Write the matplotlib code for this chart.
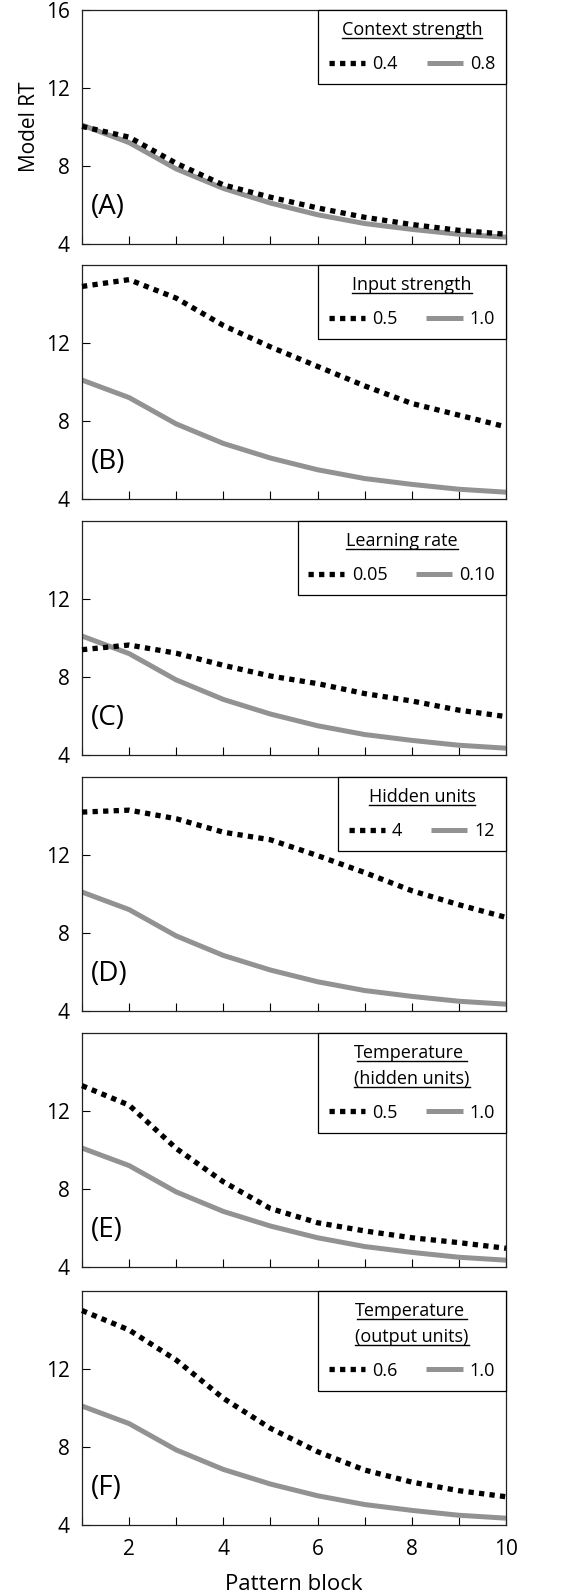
import matplotlib
matplotlib.use('Agg')
import matplotlib.pyplot as plt
from matplotlib.lines import Line2D

plt.rcParams['font.family'] = ['Open Sans', 'DejaVu Sans']

blocks = list(range(1, 11))
# baseline model (gray, same in every panel)
baseline = [10.1, 9.2, 7.85, 6.85, 6.1, 5.5, 5.05, 4.75, 4.5, 4.35]
# manipulated parameter (black dotted)
context_04 = [10.03, 9.48, 8.14, 7.03, 6.4, 5.85, 5.37, 5.0, 4.7, 4.5]
input_05 = [14.9, 15.25, 14.3, 12.9, 11.8, 10.8, 9.8, 8.9, 8.3, 7.7]
lrate_005 = [9.4, 9.64, 9.22, 8.6, 8.05, 7.66, 7.15, 6.77, 6.3, 5.97]
hidden_4 = [14.2, 14.3, 13.86, 13.17, 12.78, 11.97, 11.1, 10.17, 9.45, 8.8]
temp_hidden_05 = [13.3, 12.3, 10.08, 8.37, 7.0, 6.27, 5.85, 5.5, 5.25, 4.96]
temp_output_06 = [15.0, 14.0, 12.46, 10.5, 8.96, 7.76, 6.82, 6.2, 5.76, 5.45]

dotted_series = [context_04, input_05, lrate_005, hidden_4, temp_hidden_05, temp_output_06]
panel_letters = ['A', 'B', 'C', 'D', 'E', 'F']
legend_titles = ['Context strength', 'Input strength', 'Learning rate', 'Hidden units',
                 'Temperature\n(hidden units)', 'Temperature\n(output units)']
dotted_labels = ['0.4', '0.5', '0.05', '4', '0.5', '0.6']
solid_labels = ['0.8', '1.0', '0.10', '12', '1.0', '1.0']

W, H = 572, 1595
fig = plt.figure(figsize=(W / 100, H / 100), dpi=100)

top_px = [10, 265, 521, 777, 1033, 1291]
ax_h = 234
left_px, ax_w = 82, 424
leg_fs = 13

legends = []
axes = []
for i, series in enumerate(dotted_series):
    ax = fig.add_axes([left_px / W, 1 - (top_px[i] + ax_h) / H, ax_w / W, ax_h / H])
    axes.append(ax)
    l1, = ax.plot(blocks, series, color='black', lw=3.8, linestyle=(0, (1, 1)),
                  dash_capstyle='butt', zorder=3, clip_on=False)
    l2, = ax.plot(blocks, baseline, color='#929292', lw=3.6, zorder=2,
                  solid_capstyle='butt')
    ax.set_xlim(1, 10)
    ax.set_ylim(4, 16)
    ax.set_xticks(blocks)
    if i == 0:
        ax.set_yticks([4, 8, 12, 16])
    else:
        ax.set_yticks([4, 8, 12])
    if i == len(dotted_series) - 1:
        ax.set_xticklabels([str(b) if b % 2 == 0 else '' for b in blocks])
        ax.set_xlabel('Pattern block', fontsize=16, labelpad=10)
    else:
        ax.set_xticklabels([])
    ax.tick_params(direction='in', length=6, width=0.8, labelsize=15)
    ax.tick_params(axis='y', pad=9)
    ax.tick_params(axis='x', pad=10)
    for sp in ax.spines.values():
        sp.set_linewidth(0.9)
        sp.set_color('#222222')
    ax.text(0.022, 0.16, '(%s)' % panel_letters[i], transform=ax.transAxes,
            fontsize=20, va='center', ha='left')
    leg = ax.legend([l1, l2], [dotted_labels[i], solid_labels[i]], title=legend_titles[i],
                    loc='upper right', ncol=2, fancybox=False, edgecolor='black',
                    framealpha=1, borderaxespad=0, fontsize=leg_fs, title_fontsize=leg_fs,
                    handlelength=2.0, columnspacing=1.6, handletextpad=0.4,
                    labelspacing=0.9, borderpad=0.6)
    leg.get_frame().set_linewidth(0.9)
    leg.get_title().set_linespacing(1.55)
    legends.append(leg)

axes[0].set_ylabel('Model RT', fontsize=15, labelpad=4)

# underline the legend titles
fig.canvas.draw()
renderer = fig.canvas.get_renderer()
for leg in legends:
    title = leg.get_title()
    bb = title.get_window_extent(renderer)
    lines = title.get_text().split('\n')
    one = fig.text(0, 0, 'Tg', fontsize=leg_fs)
    two = fig.text(0, 0, 'Tg\nTg', fontsize=leg_fs, linespacing=1.55)
    h1 = one.get_window_extent(renderer).height
    dy = two.get_window_extent(renderer).height - h1
    one.remove()
    two.remove()
    cx = (bb.x0 + bb.x1) / 2
    for k, line in enumerate(lines):
        t = fig.text(0, 0, line, fontsize=leg_fs)
        w = t.get_window_extent(renderer).width
        t.remove()
        y = bb.y1 - h1 - k * dy + 1
        (x0, y0), (x1, _) = fig.transFigure.inverted().transform([(cx - w / 2, y), (cx + w / 2, y)])
        fig.add_artist(Line2D([x0, x1], [y0, y0], transform=fig.transFigure,
                              color='black', lw=1.0))

fig.savefig('out.png', dpi=100)
